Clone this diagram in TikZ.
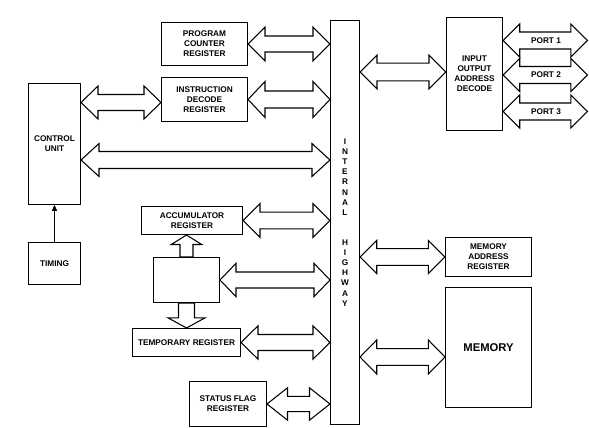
\documentclass[tikz,border=0pt]{standalone}
\usepackage{fontspec}
\setmainfont{Liberation Sans}
\usetikzlibrary{calc}
\usetikzlibrary{arrows.meta}
\tikzset{%
  mybox/.style={draw=black, line width=0.6pt, align=center, inner sep=0pt, font=\bfseries\fontsize{4.7}{5.75}\selectfont},
  mybus/.style={draw=black, fill=white, line width=0.6pt, line join=miter},
  myedge/.style={-{Triangle[length=3.4pt, width=3pt]}, line width=0.6pt}
}

% block arrow, heads at both ends: tip, tip, head length, shaft half, head half
\newcommand{\busarrow}[5]{%
  \coordinate (bl) at (#1);
  \coordinate (br) at (#2);
  \draw [mybus] (bl) -- ($(bl)+(#3,-#5)$) -- ($(bl)+(#3,-#4)$) -- ($(br)+(-#3,-#4)$) -- ($(br)+(-#3,-#5)$) -- (br)
    -- ($(br)+(-#3,#5)$) -- ($(br)+(-#3,#4)$) -- ($(bl)+(#3,#4)$) -- ($(bl)+(#3,#5)$) -- cycle;
}
% upright block arrow, one head: start, tip, head length, shaft half, head half
\newcommand{\vbus}[5]{%
  \coordinate (vs) at (#1);
  \coordinate (vt) at (#2);
  \draw [mybus] (vt) -- ($(vt)+(#5,#3)$) -- ($(vt)+(#4,#3)$) -- ($(vs)+(#4,0)$) -- ($(vs)+(-#4,0)$)
    -- ($(vt)+(-#4,#3)$) -- ($(vt)+(-#5,#3)$) -- cycle;
}

\begin{document}
\begin{tikzpicture}[x=0.02cm, y=-0.02cm]
\useasboundingbox (0,0) rectangle (589,428);

\node [mybox, minimum width=1.72cm, minimum height=0.86cm] (pc) at (204.5,44) {PROGRAM\\COUNTER\\REGISTER};
\node [mybox, minimum width=1.72cm, minimum height=0.88cm] (idr) at (204.5,99.5) {INSTRUCTION\\DECODE\\REGISTER};
\node [mybox, minimum width=1.04cm, minimum height=2.42cm] (cu) at (54.5,144) {CONTROL\\UNIT};
\node [mybox, minimum width=1.04cm, minimum height=0.84cm] (tim) at (54.5,263.5) {TIMING};
\node [mybox, minimum width=0.58cm, minimum height=8.08cm] (hw) at (345,222.5)
  {I\\N\\T\\E\\R\\N\\A\\L\\[11.5pt]H\\I\\G\\H\\W\\A\\Y};
\node [mybox, minimum width=1.12cm, minimum height=2.26cm] (io) at (474.5,74) {INPUT\\OUTPUT\\ADDRESS\\DECODE};
\node [mybox, minimum width=2.02cm, minimum height=0.56cm] (acc) at (192,220.5) {ACCUMULATOR\\REGISTER};
\node [mybox, minimum width=1.32cm, minimum height=0.9cm] (alu) at (186.5,280) {};
\node [mybox, minimum width=2.16cm, minimum height=0.56cm] (tmp) at (186.5,342.5) {TEMPORARY REGISTER};
\node [mybox, minimum width=1.54cm, minimum height=0.9cm] (sfr) at (228,404) {STATUS FLAG\\REGISTER};
\node [mybox, minimum width=1.72cm, minimum height=0.78cm] (mar) at (488.5,257) {MEMORY\\ADDRESS\\REGISTER};
\node [mybox, minimum width=1.72cm, minimum height=2.4cm, font=\bfseries\fontsize{6.4}{7.7}\selectfont] (mem) at (488.5,347.5) {MEMORY};

% timing into control unit
\draw [myedge] (tim) -- (cu);

% into the highway
\busarrow{pc.east}{pc.east -| hw.west}{17}{8}{17}
\busarrow{idr.east}{idr.east -| hw.west}{17}{8.5}{18}
\busarrow{cu.east |- 0,102.5}{idr.west |- 0,102.5}{17}{8}{16.5}
\busarrow{cu.east |- 0,160}{hw.west |- 0,160}{18}{8.5}{16.5}
\busarrow{acc.east}{acc.east -| hw.west}{17}{8.3}{17}
\busarrow{alu.east}{alu.east -| hw.west}{16}{8}{16.7}
\busarrow{tmp.east}{tmp.east -| hw.west}{17}{8}{16.7}
\busarrow{sfr.east}{sfr.east -| hw.west}{20.5}{7.7}{16.2}

% out of the highway
\busarrow{hw.east |- 0,72}{io.west |- 0,72}{17}{8.8}{16.8}
\busarrow{hw.east |- mar.west}{mar.west}{16.7}{8.3}{16.7}
\busarrow{hw.east |- 0,357}{mem.west |- 0,357}{16.7}{8.3}{17}

% accumulator / temporary
\vbus{alu.north}{acc.south -| alu.north}{9.5}{6.5}{15.3}
\vbus{alu.south}{tmp.north -| alu.south}{-10}{8}{18.3}

% ports
\foreach \n / \y in {1/40.5, 2/75, 3/111.5}{
  \coordinate (p\n) at (587.5,\y);
  \busarrow{io.east |- 0,\y}{p\n}{16.7}{8.5}{16.5}
  \node [font=\bfseries\fontsize{4.7}{5.75}\selectfont, inner sep=0pt] (port\n) at (546,\y) {PORT \n};
}

\end{tikzpicture}
\end{document}
